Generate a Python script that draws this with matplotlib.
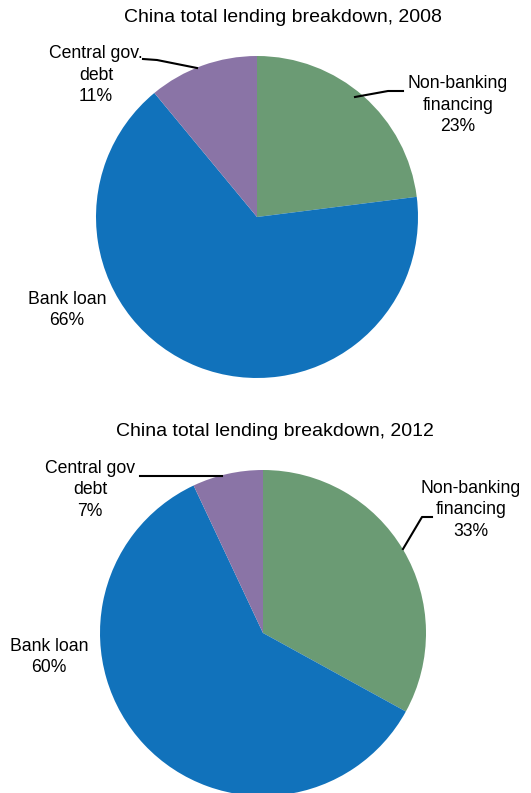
import matplotlib.pyplot as plt

plt.rcParams["font.family"] = ["Liberation Sans", "DejaVu Sans"]

FONTSIZE = 12.7
TITLESIZE = 14

# Shares of total lending (clockwise from 12 o'clock)
labels = ["Non-banking\nfinancing", "Bank loan", "Central gov"]
share_2008 = [23, 66, 11]
share_2012 = [33, 60, 7]
colors = ["#6b9b74", "#1172bb", "#8a74a6"]

H = 793  # figure height in px, used to flip image-style y coordinates

fig = plt.figure(figsize=(5.31, 7.93), dpi=100)
ax = fig.add_axes([0, 0, 1, 1])

# 2008 pie
ax.pie(share_2008, colors=colors, startangle=90, counterclock=False,
       center=(257, H - 217), radius=161, wedgeprops=dict(linewidth=0))
ax.text(283, H - 17, "China total lending breakdown, 2008", ha="center", va="center", fontsize=TITLESIZE)
ax.text(96, H - 75, "Central gov.\ndebt\n%d%%" % share_2008[2], ha="center", va="center",
        fontsize=FONTSIZE, linespacing=1.35)
ax.plot([143, 157, 197], [H - 59, H - 60, H - 68], color="black", lw=1.5)
ax.text(458, H - 105, "Non-banking\nfinancing\n%d%%" % share_2008[0], ha="center", va="center",
        fontsize=FONTSIZE, linespacing=1.35)
ax.plot([355, 388, 403], [H - 97, H - 91, H - 91], color="black", lw=1.5)
ax.text(67, H - 310, "Bank loan\n%d%%" % share_2008[1], ha="center", va="center",
        fontsize=FONTSIZE, linespacing=1.35)

# 2012 pie
ax.pie(share_2012, colors=colors, startangle=90, counterclock=False,
       center=(263, H - 633), radius=163, wedgeprops=dict(linewidth=0))
ax.text(275, H - 432, "China total lending breakdown, 2012", ha="center", va="center", fontsize=TITLESIZE)
ax.text(90, H - 490, "Central gov\ndebt\n%d%%" % share_2012[2], ha="center", va="center",
        fontsize=FONTSIZE, linespacing=1.35)
ax.plot([140, 222], [H - 476, H - 476], color="black", lw=1.5)
ax.text(471, H - 510, "Non-banking\nfinancing\n%d%%" % share_2012[0], ha="center", va="center",
        fontsize=FONTSIZE, linespacing=1.35)
ax.plot([403, 422, 432], [H - 549, H - 517, H - 517], color="black", lw=1.5)
ax.text(49, H - 657, "Bank loan\n%d%%" % share_2012[1], ha="center", va="center",
        fontsize=FONTSIZE, linespacing=1.35)

ax.set_xlim(0, 531)
ax.set_ylim(0, H)
ax.set_aspect("equal")
ax.axis("off")

plt.savefig("out.png", dpi=100)
